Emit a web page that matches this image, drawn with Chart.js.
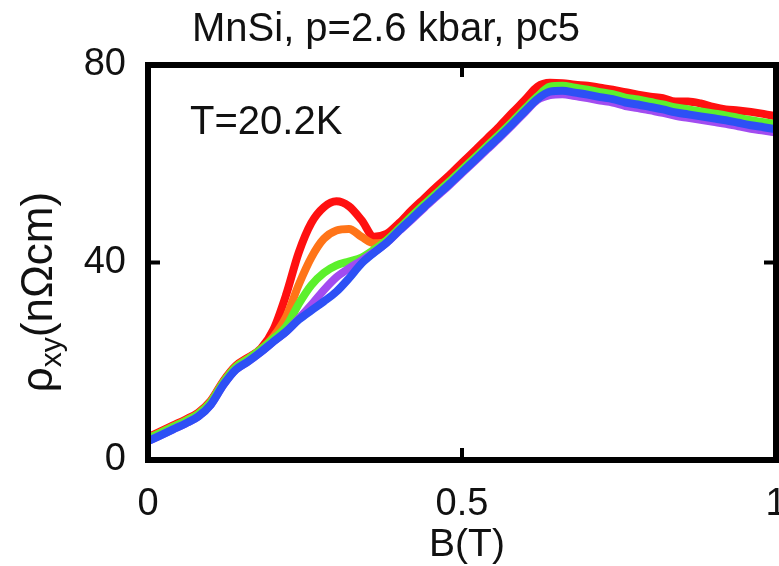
<!DOCTYPE html>
<html>
<head>
<meta charset="utf-8">
<script src="https://cdn.jsdelivr.net/npm/chart.js@4.4.0/dist/chart.umd.min.js"></script>
<style>
  html, body { margin: 0; padding: 0; background: #fff; }
</style>
</head>
<body>
<canvas id="hallChart" width="779" height="566"></canvas>
<script>
// magnetic field B (T)
const fieldB = [0, 0.02, 0.04, 0.06, 0.08, 0.10, 0.12, 0.14, 0.16, 0.18,
  0.20, 0.22, 0.24, 0.26, 0.28, 0.30, 0.32, 0.34, 0.36, 0.38,
  0.40, 0.42, 0.44, 0.46, 0.48, 0.50, 0.52, 0.54, 0.56, 0.58,
  0.60, 0.62, 0.64, 0.66, 0.68, 0.70, 0.72, 0.74, 0.76, 0.78,
  0.80, 0.82, 0.84, 0.86, 0.88, 0.90, 0.92, 0.94, 0.96, 0.98, 1.00];

// rho_xy (nOhm cm), one array per curve
const redRho = [4.6, 5.8, 7.0, 8.2, 9.6, 12.0, 16.0, 19.1, 20.8, 22.6,
  26.5, 33.5, 42.0, 48.0, 51.2, 52.4, 51.4, 48.6, 45.2, 45.8,
  48.0, 50.6, 53.0, 55.4, 57.7, 60.2, 62.6, 65.1, 67.6, 70.3,
  72.9, 75.6, 76.4, 76.3, 76.0, 75.8, 75.4, 75.0, 74.5, 74.0,
  73.6, 73.3, 72.6, 72.6, 72.2, 71.5, 71.0, 70.8, 70.5, 70.1, 69.6];
const orangeRho = [4.4, 5.6, 6.8, 8.0, 9.4, 11.8, 15.8, 18.9, 20.6, 22.4,
  25.0, 29.0, 35.5, 41.0, 44.8, 46.5, 46.8, 45.2, 43.9, 44.3,
  46.6, 49.2, 51.6, 53.9, 56.2, 58.6, 61.0, 63.4, 65.8, 68.3,
  70.9, 73.4, 74.1, 74.3, 73.9, 73.5, 73.0, 72.6, 71.9, 71.5,
  71.0, 70.5, 69.9, 69.5, 69.1, 68.7, 68.3, 67.8, 67.3, 66.9, 66.5];
const greenRho = [4.3, 5.5, 6.7, 7.9, 9.3, 11.7, 15.7, 18.8, 20.5, 22.4,
  24.6, 27.0, 31.6, 35.4, 37.9, 39.4, 40.2, 41.0, 42.6, 44.5,
  46.9, 49.4, 51.8, 54.1, 56.4, 58.8, 61.2, 63.6, 66.0, 68.5,
  71.1, 73.6, 75.6, 75.8, 75.4, 75.0, 74.5, 74.1, 73.4, 73.0,
  72.5, 72.0, 71.4, 71.0, 70.6, 70.2, 69.8, 69.3, 68.8, 68.4, 68.0];
const blackRho = [3.5, 4.7, 5.9, 7.1, 8.5, 10.9, 14.9, 18.0, 19.7, 21.6,
  23.7, 25.7, 28.1, 31.5, 34.8, 37.6, 39.2, 40.5, 41.7, 43.7,
  46.2, 48.6, 51.0, 53.3, 55.6, 58.0, 60.4, 62.8, 65.2, 67.7,
  70.3, 72.8, 74.3, 74.5, 74.1, 73.7, 73.2, 72.8, 72.1, 71.7,
  71.2, 70.7, 70.1, 69.7, 69.3, 68.9, 68.5, 68.0, 67.5, 67.1, 66.7];
const purpleRho = [3.8, 5.0, 6.2, 7.4, 8.8, 11.2, 15.2, 18.3, 20.0, 21.9,
  24.0, 26.0, 28.6, 31.4, 34.4, 37.0, 38.8, 40.4, 42.1, 44.0,
  46.4, 48.7, 51.1, 53.4, 55.7, 58.1, 60.5, 62.9, 65.3, 67.8,
  70.4, 72.9, 73.9, 74.1, 73.7, 73.3, 72.8, 72.4, 71.7, 71.3,
  70.8, 70.3, 69.7, 69.3, 68.9, 68.5, 68.1, 67.6, 67.1, 66.7, 66.3];
const blueRho = [3.8, 5.0, 6.2, 7.4, 8.8, 11.2, 15.2, 18.3, 20.0, 21.9,
  24.0, 26.0, 28.4, 30.3, 32.1, 34.1, 36.8, 39.8, 42.0, 44.0,
  46.5, 48.9, 51.3, 53.6, 55.9, 58.3, 60.7, 63.1, 65.5, 68.0,
  70.6, 73.1, 74.6, 74.8, 74.4, 74.0, 73.5, 73.1, 72.4, 72.0,
  71.5, 71.0, 70.4, 70.0, 69.6, 69.2, 68.8, 68.3, 67.8, 67.4, 67.0];

const xTicks = [0, 0.5, 1];
const yTicks = [0, 40, 80];

const fontFamily = "'Liberation Sans', Arial, Helvetica, sans-serif";

function toPoints(values) {
  return fieldB.map((b, i) => ({ x: b, y: values[i] }));
}

function curve(values, color, width) {
  return {
    data: toPoints(values),
    borderColor: color,
    borderWidth: width,
    pointRadius: 0,
    fill: false,
    cubicInterpolationMode: "monotone",
    borderCapStyle: "round",
    borderJoinStyle: "round",
  };
}

// frame, inward ticks and the free texts
const framePlugin = {
  id: "frame",
  afterDatasetsDraw(chart) {
    const { ctx, chartArea: a, scales } = chart;
    ctx.save();
    ctx.strokeStyle = "#000";
    ctx.lineWidth = 6;
    ctx.strokeRect(a.left, a.top, a.right - a.left, a.bottom - a.top);

    ctx.lineWidth = 4;
    const ym = scales.y.getPixelForValue(40);
    const xm = scales.x.getPixelForValue(0.5);
    ctx.beginPath();
    ctx.moveTo(a.left, ym); ctx.lineTo(a.left + 12, ym);
    ctx.moveTo(a.right, ym); ctx.lineTo(a.right - 12, ym);
    ctx.moveTo(xm, a.bottom); ctx.lineTo(xm, a.bottom - 12);
    ctx.moveTo(xm, a.top); ctx.lineTo(xm, a.top + 12);
    ctx.stroke();
    ctx.restore();
  },
  afterDraw(chart) {
    const ctx = chart.ctx;
    ctx.save();
    ctx.fillStyle = "#111";
    ctx.textBaseline = "alphabetic";

    ctx.font = "40px " + fontFamily;
    ctx.textAlign = "center";
    ctx.fillText("MnSi, p=2.6 kbar, pc5", 386, 41);

    ctx.font = "40px " + fontFamily;
    ctx.textAlign = "left";
    ctx.fillText("T=20.2K", 190, 134);

    ctx.font = "39px " + fontFamily;
    ctx.textAlign = "center";
    ctx.fillText("B(T)", 467, 556);

    // y label, rotated, with subscript
    ctx.translate(52, 292);
    ctx.rotate(-Math.PI / 2);
    ctx.textAlign = "left";
    const big = "44px " + fontFamily;
    const small = "30px " + fontFamily;
    ctx.font = big;
    const w1 = ctx.measureText("\u03c1").width;
    const w3 = ctx.measureText("(n\u03a9cm)").width;
    ctx.font = small;
    const w2 = ctx.measureText("xy").width;
    let x0 = -(w1 + w2 + w3) / 2;
    ctx.font = big;
    ctx.fillText("\u03c1", x0, 0);
    ctx.font = small;
    ctx.fillText("xy", x0 + w1, 9);
    ctx.font = big;
    ctx.fillText("(n\u03a9cm)", x0 + w1 + w2, 0);
    ctx.restore();
  },
};

new Chart(document.getElementById("hallChart"), {
  type: "line",
  data: {
    datasets: [
      curve(blueRho, "#2d50f5", 8),
      curve(purpleRho, "#a24cf0", 8),
      curve(blackRho, "#000000", 2),
      curve(greenRho, "#5cf02c", 8),
      curve(orangeRho, "#ff7418", 8),
      curve(redRho, "#ff1010", 8),
    ],
  },
  options: {
    responsive: false,
    animation: false,
    devicePixelRatio: 1,
    layout: {
      autoPadding: false,
      padding: { top: 65, right: 3, left: 0, bottom: 0 },
    },
    plugins: {
      legend: { display: false },
      title: { display: false },
      tooltip: { enabled: false },
    },
    scales: {
      x: {
        type: "linear",
        min: 0,
        max: 1,
        grid: { display: false, drawTicks: false },
        border: { display: false },
        afterFit: (scale) => {
          scale.height = 106;
          scale.paddingLeft = 0;
          scale.paddingRight = 0;
        },
        afterBuildTicks: (scale) => { scale.ticks = xTicks.map((v) => ({ value: v })); },
        ticks: {
          padding: 22,
          maxRotation: 0,
          autoSkip: false,
          color: "#111",
          font: { family: fontFamily, size: 38 },
          callback: (v) => String(v),
        },
      },
      y: {
        min: 0,
        max: 80,
        grid: { display: false, drawTicks: false },
        border: { display: false },
        afterFit: (scale) => {
          scale.width = 148;
          scale.paddingTop = 0;
          scale.paddingBottom = 0;
        },
        afterBuildTicks: (scale) => { scale.ticks = yTicks.map((v) => ({ value: v })); },
        ticks: {
          padding: 22,
          autoSkip: false,
          color: "#111",
          font: { family: fontFamily, size: 38 },
        },
      },
    },
  },
  plugins: [framePlugin],
});
</script>
</body>
</html>
